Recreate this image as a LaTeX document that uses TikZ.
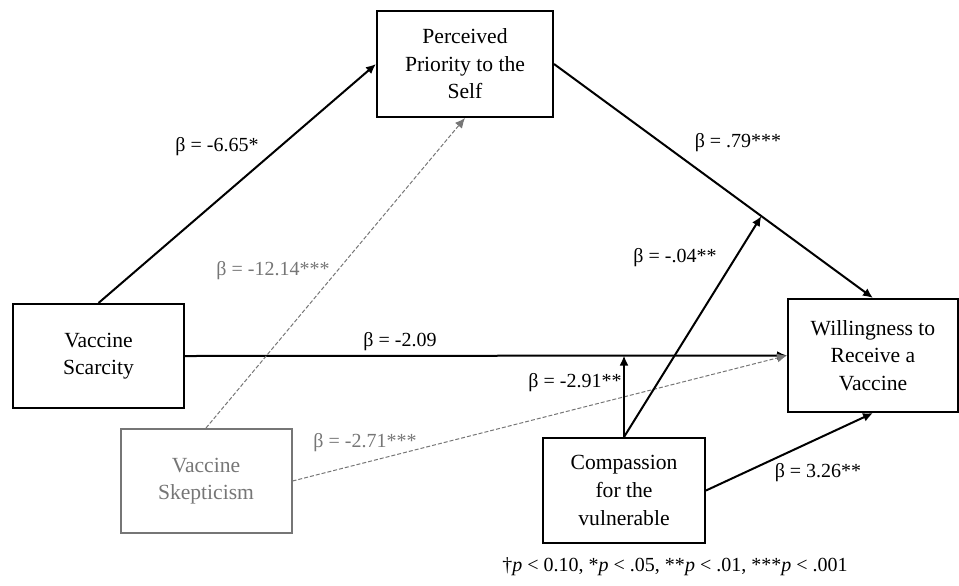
\documentclass[tikz,border=0pt]{standalone}
\usepackage{fontspec}
\setmainfont{Liberation Serif}
\usepackage{tikz}
\usetikzlibrary{arrows.meta,calc}
\definecolor{skepgray}{RGB}{118,118,118}

\begin{document}
\begin{tikzpicture}[x=0.5pt,y=-0.5pt,
    box/.style={draw,line width=1pt,align=center,inner sep=0pt,font=\fontsize{10.8}{13.8}\selectfont},
    path/.style={line width=1pt,-{Latex[length=5pt,width=4.5pt]}},
    grpath/.style={skepgray,line width=0.5pt,dash pattern=on 2pt off 1pt,-{Latex[length=5pt,width=4.5pt]}},
    coef/.style={inner sep=0pt,font=\fontsize{10}{12}\selectfont}]
                \useasboundingbox (0,0) rectangle (959,585);
                % boxes
                \node[box,minimum width=88pt,minimum height=53pt] (self) at (465,64) {Perceived\\Priority to the\\Self};
                \node[box,minimum width=85.5pt,minimum height=52pt] (scarcity) at (98.5,356) {Vaccine\\Scarcity};
                \node[box,draw=skepgray,text=skepgray,minimum width=85.5pt,minimum height=52pt] (skeptic) at (206,481) {Vaccine\\Skepticism};
                \node[box,minimum width=85pt,minimum height=56.5pt] (willing) at (873,355.5) {Willingness to\\Receive a\\Vaccine};
                \node[box,minimum width=81pt,minimum height=52.5pt] (compass) at (624,490.5) {Compassion\\for the\\vulnerable};
                \coordinate (modA) at (compass.north |- willing.west);
                \coordinate (modB) at ($(self.east)!0.65!(willing.north)$);
                % paths
                \draw[path] (scarcity.north) -- (self.west);
                \draw[path] (self.east) -- (willing.north);
                \draw[path] (scarcity.east) -- (willing.west);
                \draw[grpath] (skeptic.north) -- (self.south);
                \draw[grpath] (skeptic.east) -- (willing.west);
                \draw[path] (compass.north) -- (modA);
                \draw[path] (compass.north) -- (modB);
                \draw[path] (compass.east) -- (willing.south);
                % coefficients
                \node[coef] (b1) at (217,147) {β = -6.65*};
                \node[coef,text=skepgray] (b2) at (273,271) {β = -12.14***};
                \node[coef] (b3) at (738,143) {β = .79***};
                \node[coef] (b4) at (675,258) {β = -.04**};
                \node[coef] (b5) at (400,342) {β = -2.09};
                \node[coef] (b6) at (575,383) {β = -2.91**};
                \node[coef,text=skepgray] (b7) at (365,443) {β = -2.71***};
                \node[coef] (b8) at (818,473) {β = 3.26**};
                \node[coef] (note) at (675,567) {\textdagger\textit{p} < 0.10, *\textit{p} < .05, **\textit{p} < .01, ***\textit{p} < .001};
\end{tikzpicture}
\end{document}
